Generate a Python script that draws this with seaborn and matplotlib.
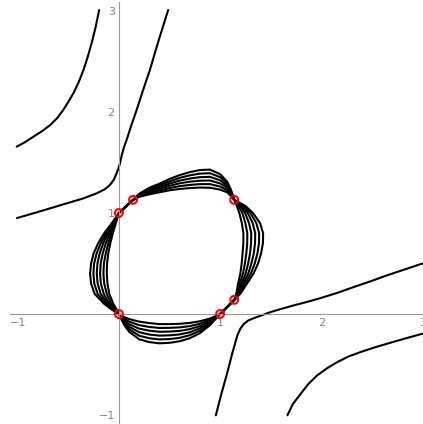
import numpy as np
import matplotlib
matplotlib.use("Agg")
import matplotlib.pyplot as plt
import seaborn as sns
from matplotlib.ticker import FixedLocator

sns.set_theme(style="white")
plt.rcParams["font.family"] = ["DejaVu Sans"]

# marked base points
pt_x = [0.0, 1.0, 0.0, 0.14, 1.14, 1.14]
pt_y = [0.0, 0.0, 1.0, 1.13, 1.13, 0.14]

# left arc of the loops: x for each curve at these y
left_y = [1.0, 0.9, 0.8, 0.7, 0.6, 0.5, 0.4, 0.3, 0.2, 0.1, 0.05, 0.0]
left_x = [
    [0, -0.07, -0.145, -0.205, -0.25, -0.275, -0.285, -0.275, -0.24, -0.145, -0.08, 0],
    [0, -0.06, -0.125, -0.18, -0.22, -0.245, -0.252, -0.243, -0.21, -0.13, -0.07, 0],
    [0, -0.055, -0.11, -0.155, -0.19, -0.212, -0.219, -0.21, -0.18, -0.11, -0.06, 0],
    [0, -0.045, -0.09, -0.13, -0.16, -0.18, -0.186, -0.178, -0.15, -0.095, -0.05, 0],
    [0, -0.04, -0.075, -0.105, -0.13, -0.148, -0.153, -0.145, -0.12, -0.075, -0.035, 0],
    [0, -0.03, -0.06, -0.085, -0.105, -0.117, -0.12, -0.113, -0.095, -0.055, -0.025, 0],
]

# bottom arc: y for each curve at these x
bottom_x = [0, 0.05, 0.1, 0.2, 0.3, 0.4, 0.5, 0.6, 0.7, 0.8, 0.9, 1.0]
bottom_y = [
    [0, -0.03, -0.05, -0.075, -0.09, -0.1, -0.1, -0.097, -0.088, -0.072, -0.045, 0],
    [0, -0.045, -0.075, -0.11, -0.128, -0.138, -0.137, -0.132, -0.12, -0.097, -0.06, 0],
    [0, -0.06, -0.1, -0.145, -0.165, -0.176, -0.174, -0.167, -0.15, -0.12, -0.073, 0],
    [0, -0.075, -0.125, -0.18, -0.203, -0.214, -0.211, -0.202, -0.181, -0.142, -0.085, 0],
    [0, -0.09, -0.15, -0.215, -0.24, -0.252, -0.248, -0.236, -0.21, -0.166, -0.098, 0],
    [0, -0.105, -0.175, -0.25, -0.278, -0.29, -0.285, -0.27, -0.24, -0.19, -0.11, 0],
]

# right arc: x for each curve at these y
right_y = [0.14, 0.2, 0.3, 0.4, 0.5, 0.6, 0.7, 0.8, 0.9, 1.0, 1.07, 1.13]
right_x = [
    [1.14, 1.16, 1.178, 1.2, 1.213, 1.222, 1.23, 1.23, 1.215, 1.19, 1.165, 1.14],
    [1.14, 1.168, 1.195, 1.226, 1.245, 1.259, 1.268, 1.269, 1.25, 1.22, 1.182, 1.14],
    [1.14, 1.176, 1.212, 1.252, 1.277, 1.296, 1.306, 1.308, 1.286, 1.247, 1.2, 1.14],
    [1.14, 1.184, 1.229, 1.278, 1.309, 1.333, 1.345, 1.347, 1.322, 1.273, 1.217, 1.14],
    [1.14, 1.192, 1.247, 1.304, 1.342, 1.369, 1.384, 1.386, 1.358, 1.3, 1.233, 1.14],
    [1.14, 1.2, 1.265, 1.33, 1.375, 1.405, 1.423, 1.425, 1.395, 1.325, 1.25, 1.14],
]

# top arc: y for each curve at these x
top_x = [0.14, 0.2, 0.3, 0.4, 0.5, 0.6, 0.7, 0.8, 0.9, 1.0, 1.07, 1.105, 1.14]
top_y = [
    [1.13, 1.19, 1.25, 1.29, 1.337, 1.375, 1.405, 1.425, 1.43, 1.385, 1.31, 1.235, 1.13],
    [1.13, 1.184, 1.237, 1.273, 1.313, 1.348, 1.373, 1.39, 1.394, 1.355, 1.29, 1.225, 1.13],
    [1.13, 1.178, 1.224, 1.256, 1.291, 1.321, 1.341, 1.355, 1.358, 1.324, 1.27, 1.213, 1.13],
    [1.13, 1.172, 1.211, 1.239, 1.269, 1.294, 1.31, 1.32, 1.322, 1.293, 1.25, 1.2, 1.13],
    [1.13, 1.166, 1.198, 1.222, 1.247, 1.266, 1.278, 1.286, 1.286, 1.262, 1.227, 1.185, 1.13],
    [1.13, 1.16, 1.185, 1.205, 1.225, 1.238, 1.247, 1.252, 1.25, 1.232, 1.205, 1.17, 1.13],
]

# outer branches
branch_a_x = [-1.01, -0.93, -0.846, -0.76, -0.68, -0.61, -0.55, -0.50, -0.45,
              -0.40, -0.35, -0.31, -0.27, -0.23, -0.195]
branch_a_y = [1.657, 1.70, 1.755, 1.81, 1.87, 1.94, 2.02, 2.10, 2.185,
              2.29, 2.416, 2.54, 2.68, 2.84, 3.01]
branch_b_x = [-1.007, -0.75, -0.516, -0.35, -0.22, -0.14, -0.089, -0.05, -0.023,
              -0.005, 0.01, 0.03, 0.05, 0.076, 0.12, 0.175, 0.24, 0.306, 0.39, 0.487]
branch_b_y = [0.95, 1.025, 1.096, 1.145, 1.195, 1.235, 1.277, 1.33, 1.393,
              1.44, 1.49, 1.58, 1.65, 1.723, 1.86, 2.02, 2.22, 2.416, 2.70, 3.01]
branch_c_x = [0.958, 1.01, 1.073, 1.12, 1.171, 1.2, 1.237, 1.28, 1.336, 1.42, 1.5,
              1.61, 1.73, 1.86, 1.994, 2.16, 2.32, 2.49, 2.65, 2.82, 3.0]
branch_c_y = [-1.003, -0.8, -0.574, -0.39, -0.211, -0.145, -0.096, -0.063, -0.04,
              -0.01, 0.02, 0.052, 0.086, 0.12, 0.158, 0.21, 0.267, 0.325, 0.383, 0.44, 0.5]
branch_d_x = [1.665, 1.72, 1.797, 1.87, 1.96, 2.06, 2.16, 2.27, 2.39, 2.52, 2.65, 2.82, 3.0]
branch_d_y = [-1.003, -0.89, -0.789, -0.695, -0.607, -0.535, -0.475, -0.42, -0.376,
              -0.333, -0.294, -0.245, -0.195]

fig = plt.figure(figsize=(4.23, 4.24), dpi=100)
ax = fig.add_axes([0, 0, 1, 1])

lw = 1.5
for k in range(len(left_x)):
    lx = list(left_x[k]) + bottom_x[1:] + list(right_x[k]) + top_x[::-1] + [0.0]
    ly = left_y + list(bottom_y[k][1:]) + right_y + list(top_y[k][::-1]) + [1.0]
    sns.lineplot(x=lx, y=ly, sort=False, estimator=None, color="black", lw=lw, ax=ax)

for bx, by in [(branch_a_x, branch_a_y), (branch_b_x, branch_b_y),
               (branch_c_x, branch_c_y), (branch_d_x, branch_d_y)]:
    sns.lineplot(x=bx, y=by, sort=False, estimator=None, color="black", lw=lw, ax=ax)

sns.scatterplot(x=pt_x, y=pt_y, s=32, ax=ax, zorder=5)
pts = ax.collections[-1]
pts.set_facecolor("none")
pts.set_edgecolor("red")
pts.set_linewidth(1.5)

ax.set_xlim(-1.175, 3.005)
ax.set_ylim(-1.089, 3.109)

axis_col = "#999999"
for side in ["top", "right"]:
    ax.spines[side].set_visible(False)
ax.spines["left"].set_position(("data", 0))
ax.spines["bottom"].set_position(("data", 0))
ax.spines["left"].set_bounds(-1.09, 3.09)
ax.spines["bottom"].set_bounds(-1.08, 3.0)
for side in ["left", "bottom"]:
    ax.spines[side].set_color(axis_col)
    ax.spines[side].set_linewidth(0.8)

major = [-1, 1, 2, 3]
minor = [v / 5 for v in range(-5, 16) if v % 5 != 0]
ax.xaxis.set_major_locator(FixedLocator(major))
ax.yaxis.set_major_locator(FixedLocator(major))
ax.xaxis.set_minor_locator(FixedLocator(minor))
ax.yaxis.set_minor_locator(FixedLocator(minor))
ax.set_xticklabels(["\u22121", "1", "2", "3"])
ax.set_yticklabels(["\u22121", "1", "2", "3"])
ax.tick_params(which="both", direction="in", color=axis_col, width=0.8,
               labelsize=8, labelcolor="#7f8591", pad=3)
ax.tick_params(which="major", length=3.8)
ax.tick_params(which="minor", length=2.2)
ax.set_xlabel("")
ax.set_ylabel("")
ax.grid(False)

fig.savefig("out.png", dpi=100)
